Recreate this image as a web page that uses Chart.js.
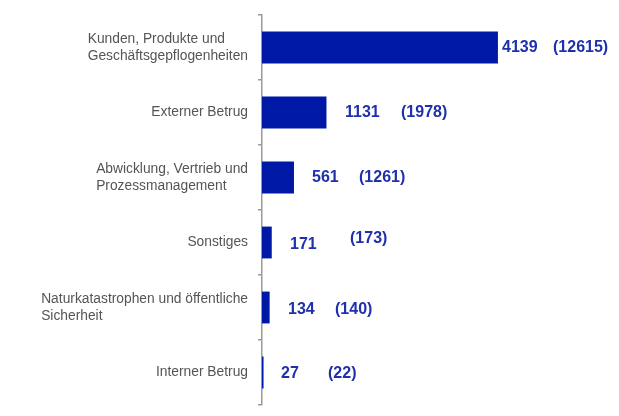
<!DOCTYPE html>
<html lang="de">
<head>
  <meta charset="UTF-8">
  <title>Verluste nach Ereigniskategorie</title>
  <script src="https://cdn.jsdelivr.net/npm/chart.js"></script>
  <style>
    html, body { margin:0; padding:0; background:#fff; }
    #wrap { width:619px; height:416px; }
  </style>
</head>
<body>
  <div id="wrap"><canvas id="chart"></canvas></div>

  <script>
    // Daten
    const categories = [
      ['Kunden, Produkte und', 'Geschäftsgepflogenheiten'],
      ['Externer Betrug'],
      ['Abwicklung, Vertrieb und', 'Prozessmanagement'],
      ['Sonstiges'],
      ['Naturkatastrophen und öffentliche', 'Sicherheit'],
      ['Interner Betrug']
    ];
    const values      = [4139, 1131, 561, 171, 134, 27];
    const priorValues = [12615, 1978, 1261, 173, 140, 22];

    const barColor   = '#0018a6';
    const valueColor = '#1f30ad';
    const labelColor = '#555555';
    const axisColor  = '#9a9a9a';

    // Wertbeschriftungen: Abstand (px) von der Achse, per Zeile von Hand gesetzt
    const labelLayout = {
      numX:   [240, 83, 50, 28, 26, 19],
      numDy:  [0, 0, 0, 2, 2, 1],
      parX:   [291, 139, 97, 88, 73, 66],
      parDy:  [0, 0, 0, -4, 2, 1]
    };

    const catLabels = {
      id: 'catLabels',
      afterDraw(chart) {
        const ctx = chart.ctx, y = chart.scales.y;
        const axisX = chart.chartArea.left;
        ctx.save();
        ctx.font = '13.8px "Liberation Sans", Arial, sans-serif';
        ctx.fillStyle = labelColor;
        ctx.textBaseline = 'middle';
        ctx.textAlign = 'left';
        const lh = 17;
        categories.forEach((lines, i) => {
          const cy = y.getPixelForValue(i);
          const w = Math.max(...lines.map(l => ctx.measureText(l).width));
          const x0 = axisX - 14 - w;
          const top = cy - (lines.length - 1) * lh / 2;
          lines.forEach((l, j) => ctx.fillText(l, x0, top + j * lh));
        });

        ctx.font = 'bold 16px "Liberation Sans", Arial, sans-serif';
        ctx.fillStyle = valueColor;
        values.forEach((v, i) => {
          const cy = y.getPixelForValue(i);
          ctx.fillText(String(v), axisX + labelLayout.numX[i], cy + labelLayout.numDy[i]);
          ctx.fillText('(' + priorValues[i] + ')', axisX + labelLayout.parX[i], cy + labelLayout.parDy[i]);
        });
        ctx.restore();
      }
    };

    new Chart(document.getElementById('chart'), {
      type: 'bar',
      data: {
        labels: categories,
        datasets: [{
          data: values,
          backgroundColor: barColor,
          borderWidth: 0,
          categoryPercentage: 1,
          barPercentage: 0.49
        }]
      },
      options: {
        indexAxis: 'y',
        responsive: true,
        maintainAspectRatio: false,
        animation: false,
        layout: { padding: { top: 15, bottom: 11, right: 15, left: 0 } },
        plugins: { legend: { display: false }, tooltip: { enabled: false } },
        scales: {
          x: { display: false, min: 0, max: 6000 },
          y: {
            offset: true,
            border: { display: true, color: axisColor, width: 1.5 },
            grid: { offset: true, drawOnChartArea: false, color: axisColor, tickLength: 4, lineWidth: 1.5 },
            ticks: { display: false },
            afterFit: s => { s.width = 262; }
          }
        }
      },
      plugins: [catLabels]
    });
  </script>
</body>
</html>
